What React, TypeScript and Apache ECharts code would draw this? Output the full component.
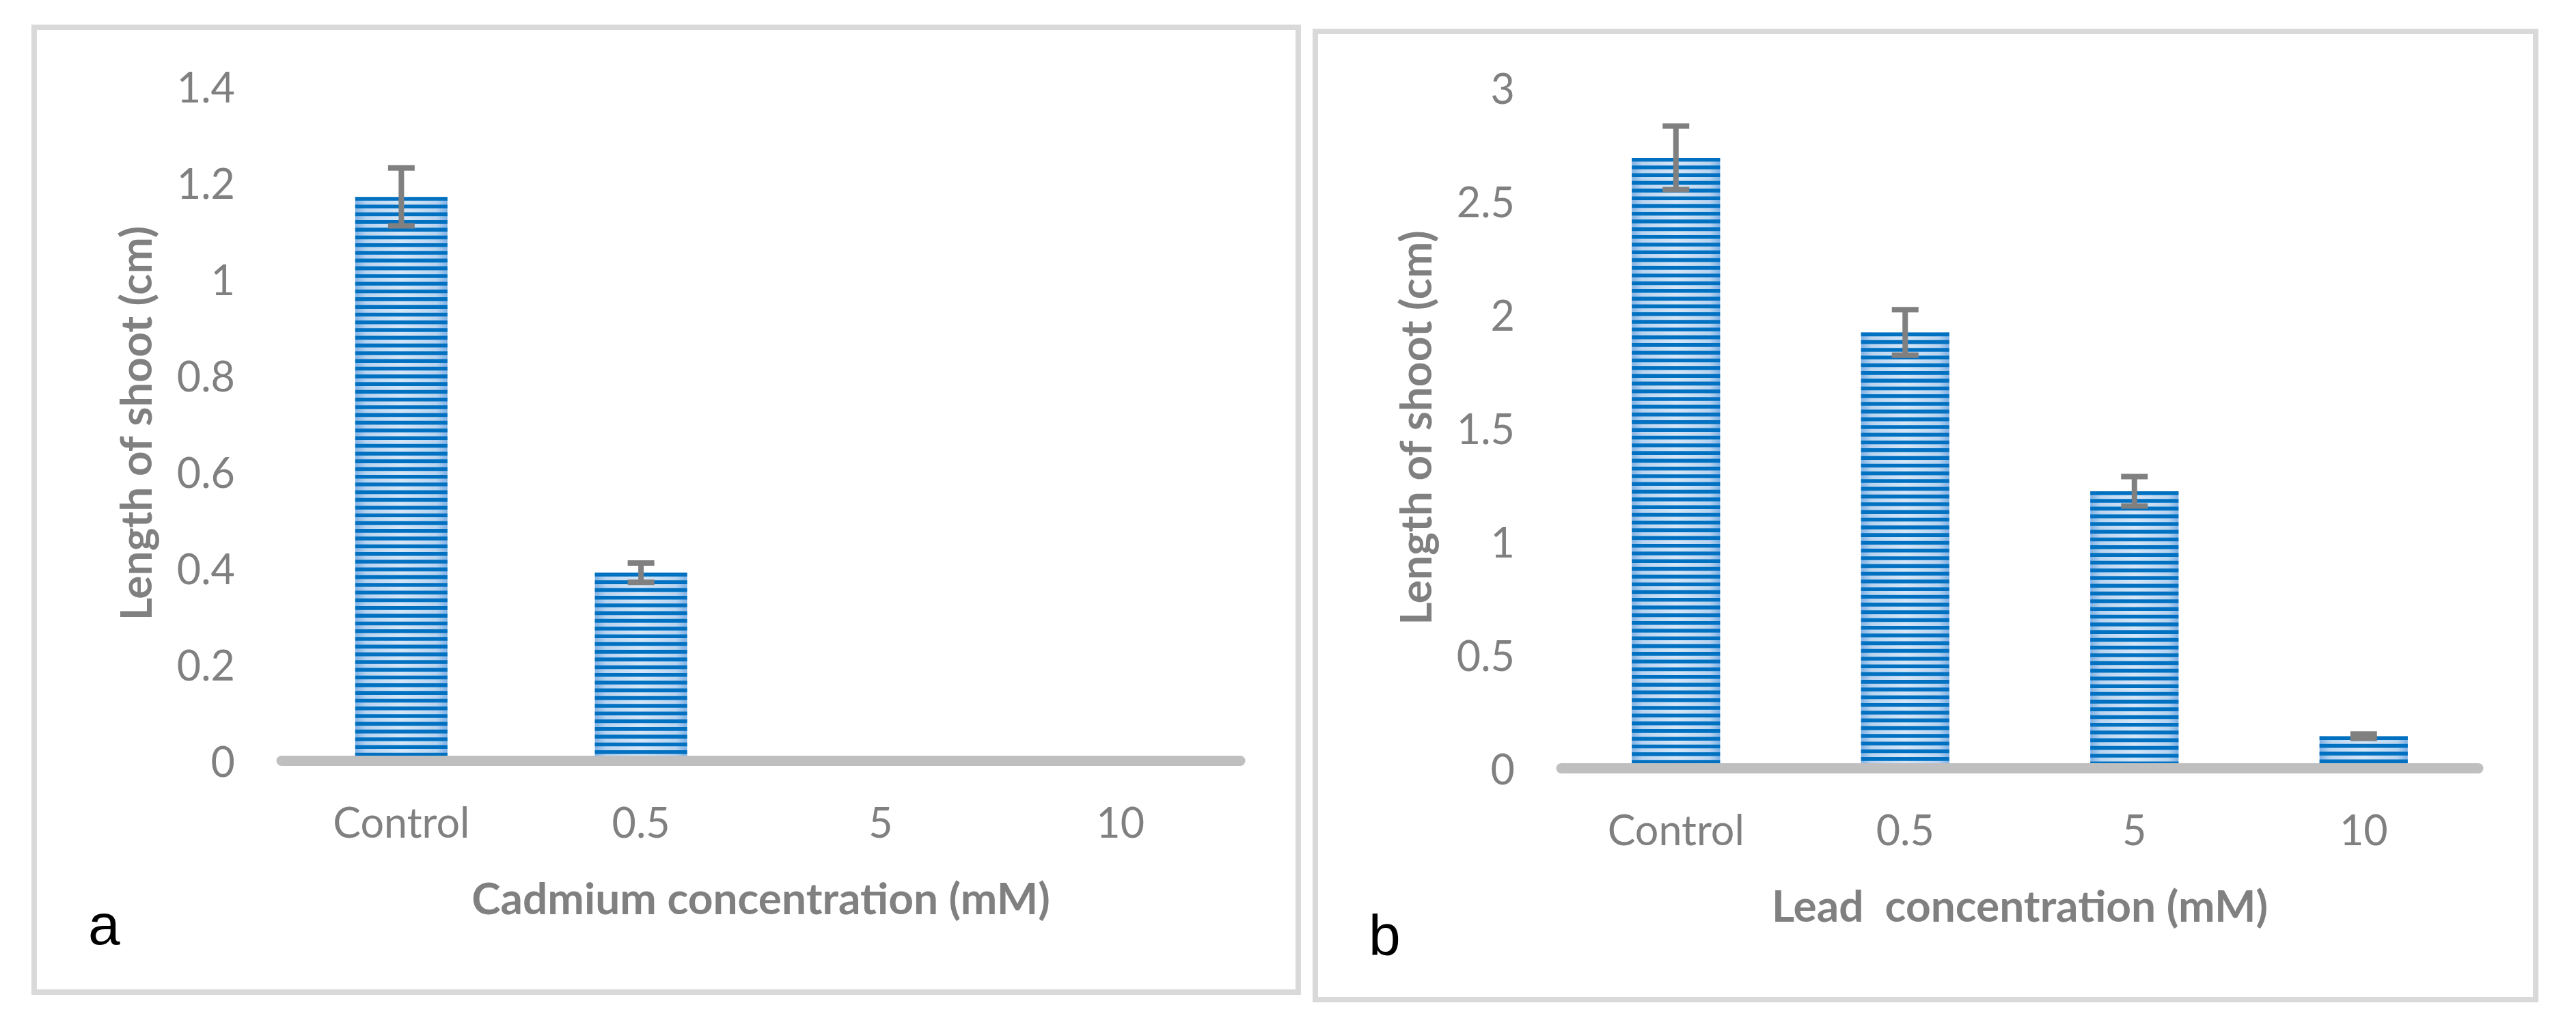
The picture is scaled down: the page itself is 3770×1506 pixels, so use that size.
import React, { useEffect, useRef } from "react";
import * as echarts from "echarts";

const categories = ["Control", "0.5", "5", "10"];
const cadmiumValues = [1.17, 0.39, 0, 0];
const cadmiumErrors = [0.06, 0.02, 0, 0];
const leadValues = [2.69, 1.92, 1.22, 0.14];
const leadErrors = [0.14, 0.1, 0.065, 0.01];
const cadmiumAxis = { min: 0, max: 1.4, interval: 0.2 };
const leadAxis = { min: 0, max: 3, interval: 0.5 };
const cadmiumTitle = "Cadmium concentration (mM)";
const leadTitle = "Lead  concentration (mM)";
const yTitle = "Length of shoot (cm)";

const GRAY = "#808080";
const FONT = "Lato";
const BAR_RATIO = 0.385;

const barFill = {
  type: "linear",
  x: 0,
  y: 0,
  x2: 1,
  y2: 0,
  colorStops: [
    { offset: 0, color: "#7fb1e4" },
    { offset: 0.12, color: "#b9d4f0" },
    { offset: 0.5, color: "#d5e6f7" },
    { offset: 0.88, color: "#b9d4f0" },
    { offset: 1, color: "#7fb1e4" },
  ],
};

function stripeRender(params: any, api: any) {
  const idx = api.value(0);
  const v = api.value(1);
  if (!v) return null;
  const base = api.coord([idx, 0]);
  const top = api.coord([idx, v]);
  const bw = api.size([1, 0])[0] * BAR_RATIO;
  const children: any[] = [];
  const period = 11.3;
  const dark = 5.6;
  for (let y = top[1]; y < base[1]; y += period) {
    children.push({
      type: "rect",
      shape: { x: base[0] - bw / 2, y, width: bw, height: Math.min(dark, base[1] - y) },
      style: { fill: "#0070c0" },
    });
  }
  return { type: "group", children };
}

function errorRender(params: any, api: any) {
  const idx = api.value(0);
  const v = api.value(1);
  const e = api.value(2);
  if (!e) return null;
  const hi = api.coord([idx, v + e]);
  const lo = api.coord([idx, v - e]);
  const cap = 39;
  const st = { stroke: GRAY, lineWidth: 8 };
  return {
    type: "group",
    children: [
      { type: "line", shape: { x1: hi[0], y1: hi[1], x2: lo[0], y2: lo[1] }, style: st },
      { type: "line", shape: { x1: hi[0] - cap / 2, y1: hi[1], x2: hi[0] + cap / 2, y2: hi[1] }, style: st },
      { type: "line", shape: { x1: lo[0] - cap / 2, y1: lo[1], x2: lo[0] + cap / 2, y2: lo[1] }, style: st },
    ],
  };
}

function makeXAxis(gridIndex: number, name: string) {
  return {
    type: "category",
    gridIndex,
    data: categories,
    z: 10,
    axisTick: { show: false },
    axisLine: { lineStyle: { color: "#bfbfbf", width: 15 } },
    axisLabel: { color: GRAY, fontFamily: FONT, fontSize: 61, margin: 59 },
    name,
    nameLocation: "middle",
    nameGap: 168,
    nameTextStyle: { color: GRAY, fontFamily: FONT, fontSize: 64, fontWeight: "bold" },
  };
}

function makeYAxis(gridIndex: number, cfg: any) {
  return {
    type: "value",
    gridIndex,
    min: cfg.min,
    max: cfg.max,
    interval: cfg.interval,
    splitLine: { show: false },
    axisLine: { show: false },
    axisTick: { show: false },
    axisLabel: { color: GRAY, fontFamily: FONT, fontSize: 61, margin: 68 },
    name: yTitle,
    nameLocation: "middle",
    nameGap: 183,
    nameTextStyle: { color: GRAY, fontFamily: FONT, fontSize: 64, fontWeight: "bold" },
  };
}

function seriesFor(gi: number, values: number[], errors: number[]) {
  return [
    {
      type: "bar",
      xAxisIndex: gi,
      yAxisIndex: gi,
      data: values,
      barWidth: "38.5%",
      itemStyle: { color: barFill },
      z: 2,
    },
    {
      type: "custom",
      xAxisIndex: gi,
      yAxisIndex: gi,
      data: values.map((v, i) => [i, v]),
      encode: { x: 0, y: 1 },
      renderItem: stripeRender,
      z: 3,
    },
    {
      type: "custom",
      xAxisIndex: gi,
      yAxisIndex: gi,
      data: values.map((v, i) => [i, v, errors[i]]),
      encode: { x: 0, y: 1 },
      renderItem: errorRender,
      z: 4,
    },
  ];
}

export default function App() {
  const ref = useRef<HTMLDivElement>(null);
  useEffect(() => {
    if (!ref.current) return;
    const chart = echarts.init(ref.current, undefined, { renderer: "svg" });
    chart.setOption({
      animation: false,
      backgroundColor: "#ffffff",
      grid: [
        { left: 412, top: 126, width: 1403, height: 987 },
        { left: 2285, top: 128, width: 1342, height: 996 },
      ],
      xAxis: [makeXAxis(0, cadmiumTitle), makeXAxis(1, leadTitle)],
      yAxis: [makeYAxis(0, cadmiumAxis), makeYAxis(1, leadAxis)],
      series: [...seriesFor(0, cadmiumValues, cadmiumErrors), ...seriesFor(1, leadValues, leadErrors)],
      graphic: [
        {
          type: "rect",
          shape: { x: 50, y: 40, width: 1850, height: 1412 },
          style: { fill: "none", stroke: "#d9d9d9", lineWidth: 8 },
          z: 0,
        },
        {
          type: "rect",
          shape: { x: 1925, y: 46, width: 1786, height: 1417 },
          style: { fill: "none", stroke: "#d9d9d9", lineWidth: 8 },
          z: 0,
        },
        {
          type: "text",
          x: 129,
          y: 1353,
          style: { text: "a", fill: "#000000", font: "84px 'Liberation Sans'", textVerticalAlign: "middle" },
        },
        {
          type: "text",
          x: 2003,
          y: 1369,
          style: { text: "b", fill: "#000000", font: "84px 'Liberation Sans'", textVerticalAlign: "middle" },
        },
      ],
    });
    return () => chart.dispose();
  }, []);
  return (
    <div
      ref={ref}
      style={{ position: "absolute", left: 0, top: 0, width: 3770, height: 1506 }}
    />
  );
}
